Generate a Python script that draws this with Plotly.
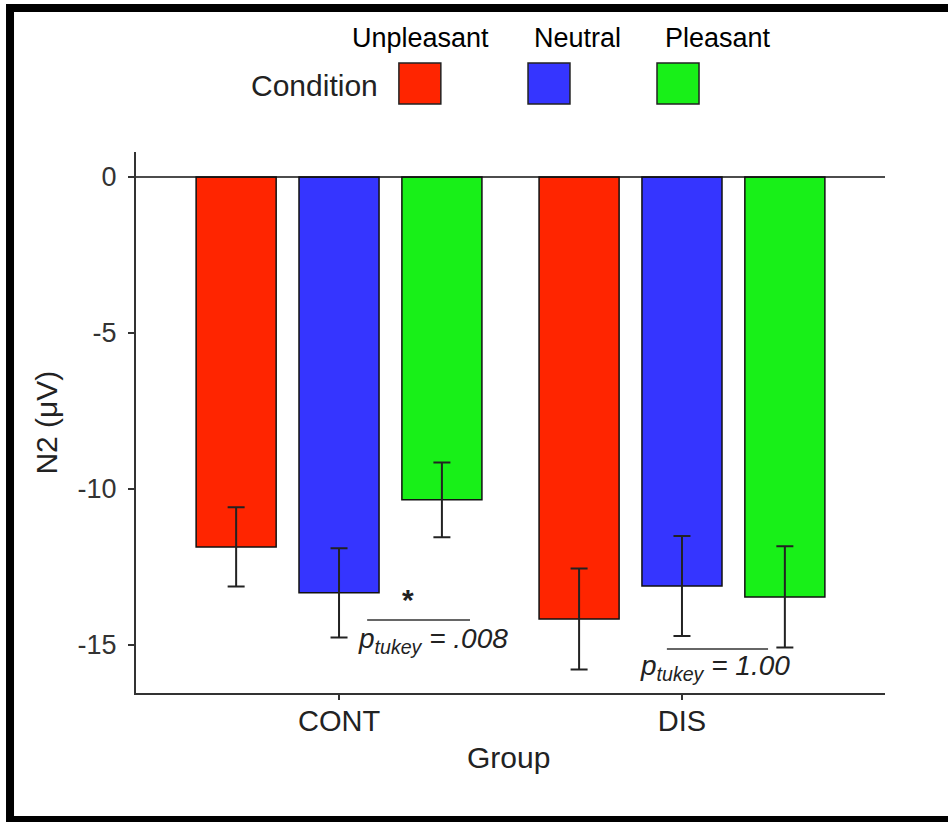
import plotly.graph_objects as go

# N2 amplitude by group and emotional condition (mean ± SE)
groups = ["CONT", "DIS"]
conditions = ["Unpleasant", "Neutral", "Pleasant"]
colors = ["#FF2500", "#3535FF", "#18F018"]
means = {
    "Unpleasant": [-11.86, -14.17],
    "Neutral": [-13.33, -13.11],
    "Pleasant": [-10.35, -13.46],
}
errors = {
    "Unpleasant": [1.27, 1.62],
    "Neutral": [1.43, 1.60],
    "Pleasant": [1.20, 1.62],
}
y_ticks = [0, -5, -10, -15]

FONT = "Liberation Sans, Arial, sans-serif"

fig = go.Figure()
for cond, col in zip(conditions, colors):
    fig.add_trace(go.Bar(
        x=groups, y=means[cond], name=cond,
        marker=dict(color=col, line=dict(color="#111111", width=1.5)),
        error_y=dict(type="data", array=errors[cond], visible=True,
                     color="#222222", thickness=2, width=8.5),
        showlegend=False,
    ))

shapes = [
    # zero reference line
    dict(type="line", xref="paper", yref="y", x0=0, x1=1, y0=0, y1=0,
         line=dict(color="#111111", width=1.6), layer="above"),
    # comparison brackets
    dict(type="line", xref="x", yref="y", x0=0.082, x1=0.382, y0=-14.2, y1=-14.2,
         line=dict(color="#333333", width=1.6)),
    dict(type="line", xref="x", yref="y", x0=0.956, x1=1.251, y0=-15.13, y1=-15.13,
         line=dict(color="#333333", width=1.6)),
    # outer frame
    dict(type="rect", xref="paper", yref="paper",
         x0=-0.1682, x1=1.2, y0=-0.2348, y1=1.2662,
         line=dict(color="black", width=8), fillcolor="rgba(0,0,0,0)"),
]

# legend keys drawn above the plot
key_x = [(0.351, 0.407), (0.5234, 0.5794), (0.6956, 0.7517)]
label_x = [0.3805, 0.5888, 0.777]
annotations = []
for (x0, x1), col in zip(key_x, colors):
    shapes.append(dict(type="rect", xref="paper", yref="paper",
                       x0=x0, x1=x1, y0=1.0887, y1=1.1645,
                       fillcolor=col, line=dict(color="#222222", width=1.5)))
for cond, lx in zip(conditions, label_x):
    annotations.append(dict(text=cond, xref="paper", yref="paper", x=lx, y=1.2107,
                            showarrow=False, xanchor="center", yanchor="middle",
                            font=dict(family=FONT, size=27, color="black")))
annotations.append(dict(text="Condition", xref="paper", yref="paper", x=0.3258, y=1.1238,
                        showarrow=False, xanchor="right", yanchor="middle",
                        font=dict(family=FONT, size=30, color="#222222")))

# significance labels
annotations += [
    dict(text="<b>*</b>", xref="x", yref="y", x=0.2, y=-13.55, showarrow=False,
         font=dict(family=FONT, size=30, color="#222222")),
    dict(text="<i>p<sub>tukey</sub> = .008</i>", xref="x", yref="y", x=0.274, y=-14.85,
         showarrow=False, font=dict(family=FONT, size=28, color="#222222")),
    dict(text="<i>p<sub>tukey</sub> = 1.00</i>", xref="x", yref="y", x=1.096, y=-15.72,
         showarrow=False, font=dict(family=FONT, size=28, color="#222222")),
    # axis titles
    dict(text="N2 (μV)", xref="paper", yref="paper", x=-0.12, y=0.5,
         showarrow=False, textangle=-90, xanchor="center", yanchor="middle",
         font=dict(family=FONT, size=30, color="#222222")),
    dict(text="Group", xref="paper", yref="paper", x=0.497, y=-0.12,
         showarrow=False, xanchor="center", yanchor="middle",
         font=dict(family=FONT, size=30, color="#222222")),
]

fig.update_layout(
    width=948, height=822,
    margin=dict(l=136, r=63, t=152, b=129),
    paper_bgcolor="white", plot_bgcolor="white",
    barmode="group", bargap=0.1, bargroupgap=0.222,
    shapes=shapes, annotations=annotations,
    font=dict(family=FONT),
)
fig.update_xaxes(
    range=[-0.592, 1.592], showgrid=False, zeroline=False,
    showline=True, linecolor="#333333", linewidth=2,
    ticks="outside", ticklen=5, tickwidth=2, tickcolor="#333333",
    ticklabelstandoff=-4,
    tickfont=dict(family=FONT, size=29, color="#222222"),
)
fig.update_yaxes(
    range=[-16.54, 0.8], showgrid=False, zeroline=False,
    showline=True, linecolor="#333333", linewidth=2,
    ticks="outside", ticklen=6, tickwidth=2, tickcolor="#333333",
    ticklabelstandoff=6,
    tickvals=y_ticks, ticktext=[str(v) for v in y_ticks],
    tickfont=dict(family=FONT, size=27, color="#333333"),
)

fig.write_html("out.html")
